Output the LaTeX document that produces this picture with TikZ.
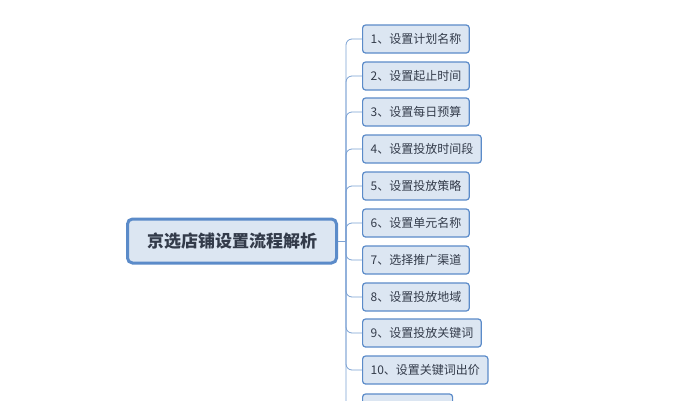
\documentclass[tikz,border=0pt]{standalone}
\usepackage{fontspec}
\newfontfamily\cjk{Noto Sans CJK SC}
\definecolor{boxfill}{HTML}{DCE6F2}
\definecolor{boxline}{HTML}{5B8BC9}
\definecolor{txt}{HTML}{333B4A}
\begin{document}
\begin{tikzpicture}[x=1pt,y=-1pt,
  child/.style={draw=boxline,fill=boxfill,rounded corners=3pt,line width=1.2pt,minimum height=28pt,inner xsep=8pt,anchor=west,font=\cjk\fontsize{12}{14}\selectfont,text=txt},
  root/.style={draw=boxline,fill=boxfill,rounded corners=5pt,line width=3pt,minimum width=209pt,minimum height=44pt,font=\cjk\fontsize{17}{20}\selectfont\bfseries,text=txt},
  conn/.style={draw=boxline!80,line width=0.8pt}]
\clip (0,0) rectangle (697,400);
\fill[white] (0,0) rectangle (697,400);
\node[root] (r) at (232,241) {京选店铺设置流程解析};
\coordinate (t) at (346,241);
\foreach \i/\t/\y in {1/1、设置计划名称/39,2/2、设置起止时间/76,3/3、设置每日预算/112,4/4、设置投放时间段/149,5/5、设置投放策略/186,6/6、设置单元名称/223,7/7、选择推广渠道/260,8/8、设置投放地域/297,9/9、设置投放关键词/333,10/10、设置关键词出价/370}{
  \node[child] (c\i) at (362,\y) {\t};
  \draw[conn,rounded corners=6pt] (t) -- (346,\y) -- (c\i.west);
}
\node[child,minimum width=90pt] (c11) at (362,408) {};
\draw[conn] (r.east) -- (t);
\draw[conn,rounded corners=6pt] (t) -- (346,408) -- (c11.west);
\end{tikzpicture}
\end{document}
